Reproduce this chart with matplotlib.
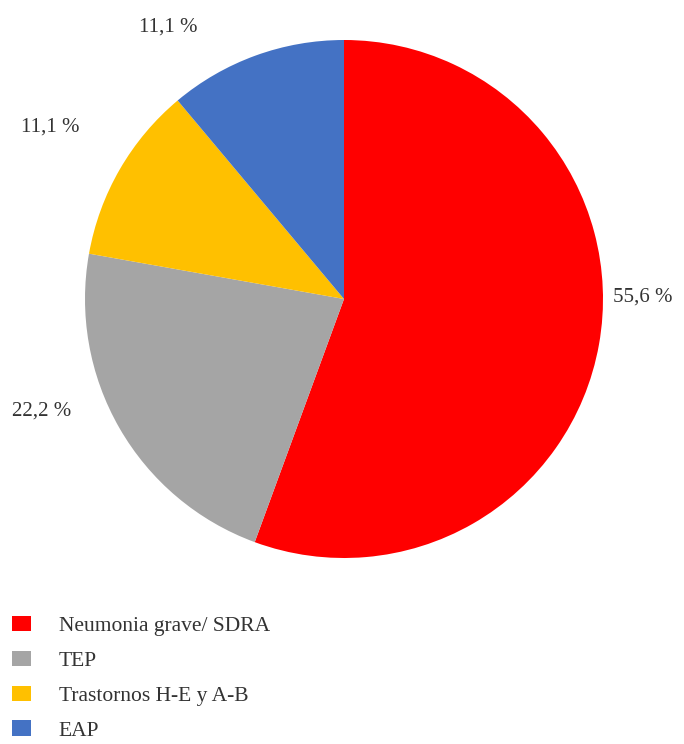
import matplotlib.pyplot as plt
from matplotlib.patches import Patch

labels = ["Neumonia grave/ SDRA", "TEP", "Trastornos H-E y A-B", "EAP"]
values = [55.6, 22.2, 11.1, 11.1]
pct_text = ["55,6 %", "22,2 %", "11,1 %", "11,1 %"]
colors = ["#FF0000", "#A5A5A5", "#FFC000", "#4472C4"]
# label positions in units of pie radius
label_pos = [(1.154, 0.008), (-1.166, -0.432), (-1.135, 0.664), (-0.680, 1.050)]

plt.rcParams["font.family"] = ["Liberation Serif", "DejaVu Serif"]

W, H = 684, 744
cx, cy, R = 344, 299, 259

fig = plt.figure(figsize=(W / 100, H / 100), dpi=100)
ax = fig.add_axes([0, 0, 1, 1])
ax.pie(values, colors=colors, startangle=90, counterclock=False,
       radius=1, center=(0, 0), wedgeprops=dict(linewidth=0))
ax.set_xlim(-cx / R, (W - cx) / R)
ax.set_ylim(-(H - cy) / R, cy / R)
ax.set_aspect("auto")
ax.axis("off")

for txt, (x, y) in zip(pct_text, label_pos):
    ax.text(x, y, txt, ha="center", va="center", fontsize=15, color="#333333")

handles = [Patch(facecolor=c, edgecolor="none") for c in colors]
fig.legend(handles, labels, loc="upper left", bbox_to_anchor=(-7 / W, 1 - 597 / H),
           frameon=False, fontsize=15.5, handlelength=0.85, handleheight=0.7,
           handletextpad=1.3, labelspacing=0.68, labelcolor="#333333")

fig.savefig("out.png", dpi=100)
